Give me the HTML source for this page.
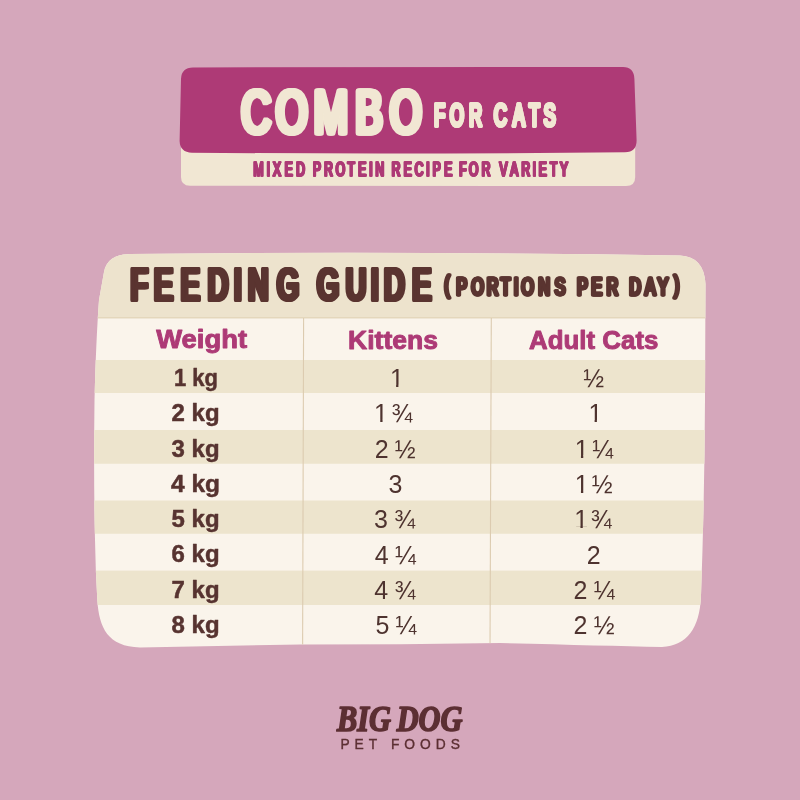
<!DOCTYPE html>
<html lang="en">
<head>
<meta charset="utf-8">
<title>Combo for Cats – Feeding Guide</title>
<style>
html,body{margin:0;padding:0;background:#d5a7bb;}
body{width:800px;height:800px;overflow:hidden;}
svg{display:block;}
text{font-family:"Liberation Sans","DejaVu Sans",sans-serif;}
.hd{font-weight:bold;stroke-linejoin:round;stroke-linecap:round;}
.brown{fill:#5a3430;stroke:#5a3430;}
.cream{fill:#f1e7d3;stroke:#f1e7d3;}
.mag{fill:#ad3a76;stroke:#ad3a76;}
.val{font-size:25px;fill:#4e332f;}
.kg{font-size:24.5px;font-weight:bold;fill:#573330;stroke:#573330;stroke-width:.5;stroke-linejoin:round;text-anchor:middle;}
.col{font-size:25px;font-weight:bold;fill:#ad3a76;stroke:#ad3a76;stroke-width:.9;stroke-linejoin:round;text-anchor:middle;}
</style>
</head>
<body>
<svg width="800" height="800" viewBox="0 0 800 800">
<rect width="800" height="800" fill="#d5a7bb"/>

<!-- banner -->
<path d="M181 140 L181 177 Q181 185.6 190 185.8 L626 186 Q635.2 186 635.2 177 L635.2 140 Z" fill="#f1e7d3"/>
<path d="M181 79 Q181.3 67.6 193 67.4 L623 67 Q634 67.2 634.4 79 L636.6 140 Q636.8 151.8 625 152.3 Q400 154.4 192 152.7 Q180 152.4 179.6 141 Z" fill="#ae3a76"/>
<!--COMBO--><g style="filter:drop-shadow(1.30px 0 0 #f1e7d3) drop-shadow(-1.30px 0 0 #f1e7d3)"><text transform="scale(0.6727,1)" x="359.9 411.0 467.7 529.1 580.5" y="133.0" font-size="60.3" font-weight="normal" fill="#f1e7d3" stroke="#f1e7d3" stroke-width="5.00" stroke-linejoin="round" stroke-linecap="round">COMBO</text></g><!--/COMBO-->
<!--FORCATS--><g style="filter:drop-shadow(0.90px 0 0 #f1e7d3) drop-shadow(-0.90px 0 0 #f1e7d3)"><text transform="scale(0.5640,1)" x="770.7 798.9 832.9 854.8 876.7 910.6 939.0 965.1" y="125.8" font-size="31.4" font-weight="normal" fill="#f1e7d3" stroke="#f1e7d3" stroke-width="3.60" stroke-linejoin="round" stroke-linecap="round">FOR CATS</text></g><!--/FORCATS-->
<!--MIXED--><g style="filter:drop-shadow(0.65px 0 0 #ad3a76) drop-shadow(-0.65px 0 0 #ad3a76)"><text transform="scale(0.6121,1)" x="415.0 436.7 446.8 466.0 484.7 498.5 512.3 530.5 549.5 568.7 586.1 604.2 614.1 627.4 640.7 660.4 678.5 697.3 707.9 726.6 738.9 751.2 767.2 787.8 802.3 816.8 834.4 852.7 871.3 881.0 899.5 915.7" y="175.7" font-size="19.5" font-weight="normal" fill="#ad3a76" stroke="#ad3a76" stroke-width="1.60" stroke-linejoin="round" stroke-linecap="round">MIXED PROTEIN RECIPE FOR VARIETY</text></g><!--/MIXED-->

<!-- table -->
<defs>
<clipPath id="tb">
<path d="M104 272 Q107 254.5 130 254 Q400 251 680 255.5 Q704 256.5 705.5 284 L705 400 Q704.5 500 701 596 Q699 645 662 647 Q600 645.5 500 643 Q400 644.5 300 644.5 L140 647.5 C108 646.5 99 628 97.3 600 Q95.5 570 95 540 Q93.5 480 94.5 400 Q96 340 99 300 Z"/>
</clipPath>
</defs>
<g clip-path="url(#tb)">
<rect x="80" y="240" width="640" height="420" fill="#faf4eb"/>
<rect x="80" y="240" width="640" height="78" fill="#ede3cd"/>
<rect x="80" y="360" width="640" height="33" fill="#ede4cd"/>
<rect x="80" y="430" width="640" height="33.75" fill="#ede4cd"/>
<rect x="80" y="500.5" width="640" height="33.25" fill="#ede4cd"/>
<rect x="80" y="570.6" width="640" height="34.4" fill="#ede4cd"/>
<line x1="80" y1="317.9" x2="720" y2="317.9" stroke="#dfd0b2" stroke-width="1"/>
<line x1="303.6" y1="318" x2="302.6" y2="650" stroke="#dccbb0" stroke-width="1.1"/>
<line x1="491.3" y1="318" x2="490" y2="650" stroke="#dccbb0" stroke-width="1.1"/>
</g>

<!--FEEDING--><g style="filter:drop-shadow(1.50px 0 0 #5a3430) drop-shadow(-1.50px 0 0 #5a3430)"><text transform="scale(0.6348,1)" x="206.8 243.6 285.8 328.5 369.6 391.8 437.5 469.0 500.4 545.9 585.2 606.2 650.6" y="300.1" font-size="43.7" font-weight="normal" fill="#5a3430" stroke="#5a3430" stroke-width="3.80" stroke-linejoin="round" stroke-linecap="round">FEEDING GUIDE</text></g><!--/FEEDING-->
<!--PORTIONS--><g style="filter:drop-shadow(1.00px 0 0 #5a3430) drop-shadow(-1.00px 0 0 #5a3430)"><text transform="scale(0.6400,1)" x="694.4 713.3 736.9 761.0 782.3 803.2 814.7 841.5 866.8 884.4 902.0 924.1 948.1 965.9 983.7 1007.8 1027.7 1053.2" y="292.8 295.2 295.2 295.2 295.2 295.2 295.2 295.2 295.2 295.2 295.2 295.2 295.2 295.2 295.2 295.2 295.2 292.8" font-size="24.6" font-weight="normal" fill="#5a3430" stroke="#5a3430" stroke-width="2.80" stroke-linejoin="round" stroke-linecap="round">(PORTIONS PER DAY)</text></g><!--/PORTIONS-->

<text class="col" x="201.7" y="348.3" textLength="91" lengthAdjust="spacingAndGlyphs">Weight</text>
<text class="col" x="393" y="348.6" textLength="90" lengthAdjust="spacingAndGlyphs">Kittens</text>
<text class="col" x="593.7" y="348.6" textLength="129.4" lengthAdjust="spacingAndGlyphs">Adult Cats</text>

<g class="kg">
<text x="196" y="386.2" textLength="44" lengthAdjust="spacingAndGlyphs">1 kg</text>
<text x="195.6" y="421.2" textLength="48" lengthAdjust="spacingAndGlyphs">2 kg</text>
<text x="195.6" y="456.5" textLength="48" lengthAdjust="spacingAndGlyphs">3 kg</text>
<text x="195.5" y="492" textLength="49" lengthAdjust="spacingAndGlyphs">4 kg</text>
<text x="195.6" y="527.2" textLength="48" lengthAdjust="spacingAndGlyphs">5 kg</text>
<text x="195.6" y="562.2" textLength="48" lengthAdjust="spacingAndGlyphs">6 kg</text>
<text x="195.6" y="597.5" textLength="48" lengthAdjust="spacingAndGlyphs">7 kg</text>
<text x="195.6" y="633" textLength="48" lengthAdjust="spacingAndGlyphs">8 kg</text>
</g>

<g class="val">
<text x="389.9" y="387.0">1</text>
<text x="374.0 388.0 391.5" y="422.0">1 ¾</text>
<text x="374.7 388.6 394.8" y="457.6">2 ½</text>
<text x="388.6" y="493.0">3</text>
<text x="374.1 388.0 394.2" y="528.3">3 ¾</text>
<text x="374.8 388.7 394.9" y="563.6">4 ¼</text>
<text x="374.3 388.2 394.4" y="598.6">4 ¾</text>
<text x="375.5 389.4 395.6" y="634.0">5 ¼</text>
<text x="583.3" y="387.0">½</text>
<text x="588.4" y="422.0">1</text>
<text x="574.7 588.6 592.3" y="457.6">1 ¼</text>
<text x="574.7 588.6 591.7" y="493.0">1 ½</text>
<text x="574.2 588.1 590.8" y="528.3">1 ¾</text>
<text x="586.8" y="563.6">2</text>
<text x="573.5 587.4 593.7" y="598.6">2 ¼</text>
<text x="573.5 587.4 593.7" y="634.0">2 ½</text>
</g>
<g><rect x="390.60" y="384.85" width="5.5" height="2.9" fill="#ede4cd"/><rect x="398.40" y="384.85" width="5.4" height="2.9" fill="#ede4cd"/><rect x="374.75" y="419.85" width="5.5" height="2.9" fill="#faf4eb"/><rect x="382.55" y="419.85" width="5.4" height="2.9" fill="#faf4eb"/><rect x="589.10" y="419.85" width="5.5" height="2.9" fill="#faf4eb"/><rect x="596.90" y="419.85" width="5.4" height="2.9" fill="#faf4eb"/><rect x="575.45" y="455.45" width="5.5" height="2.9" fill="#ede4cd"/><rect x="583.25" y="455.45" width="5.4" height="2.9" fill="#ede4cd"/><rect x="575.45" y="490.85" width="5.5" height="2.9" fill="#faf4eb"/><rect x="583.25" y="490.85" width="5.4" height="2.9" fill="#faf4eb"/><rect x="574.95" y="526.15" width="5.5" height="2.9" fill="#ede4cd"/><rect x="582.75" y="526.15" width="5.4" height="2.9" fill="#ede4cd"/></g>

<!-- logo -->
<text x="337" y="731" style="font-family:'Liberation Serif','DejaVu Serif',serif" font-size="35" font-weight="bold" font-style="italic" fill="#5c2f33" stroke="#5c2f33" stroke-width="1.7" stroke-linejoin="round" word-spacing="-2.2" textLength="125.4" lengthAdjust="spacingAndGlyphs">BIG DOG</text>
<text x="340.4" y="748.7" font-size="13.8" fill="#5c2f33" stroke="#5c2f33" stroke-width=".35" textLength="119.6" lengthAdjust="spacing">PET FOODS</text>
</svg>
</body>
</html>
